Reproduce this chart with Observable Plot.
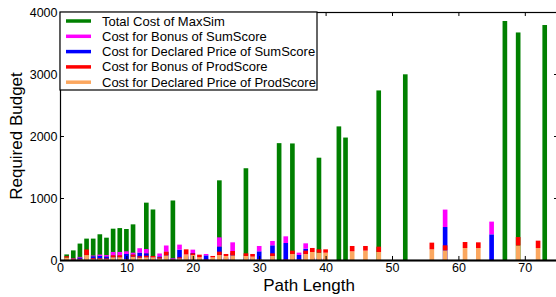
<!DOCTYPE html>
<html><head><meta charset="utf-8">
<script src="https://cdn.jsdelivr.net/npm/d3@7"></script>
<script src="https://cdn.jsdelivr.net/npm/@observablehq/plot@0.6"></script>
<style>body{margin:0;background:#fff;overflow:hidden} svg{display:block}</style>
</head><body><div id="chart"></div>
<script>
// ---- data ----
const maxSimX    = [1,2,3,4,5,6,7,8,9,10,11,13,14,17,24,28,33,35,39,42,43,48,52,67,69,73];
const maxSimCost = [90,155,265,345,345,415,360,505,515,500,575,925,815,960,1285,1480,1885,1880,1650,2155,1975,2735,2995,3855,3670,3790];

const stackX       = [1,2,3,4,5,6,7,8,9,10,11,12,13,14,15,16,17,18,19,20,21,22,23,24,25,26,28,29,30,32,34,35,36,37,38,39,40,44,46,48,56,58,61,63,65,69,72];
const sumDeclared  = [10,15,38,30,60,65,55,70,70,97,86,120,107,40,60,134,20,167,60,113,20,75,10,215,30,120,40,30,140,237,274,30,81,183,30,20,20,0,0,0,0,532,0,0,414,0,0];
const sumBonus     = [10,10,12,20,12,22,25,60,60,43,32,70,70,20,45,100,10,81,30,54,10,22,5,150,15,165,20,15,86,70,108,10,38,86,10,10,10,0,0,0,0,281,0,0,205,0,0];
const prodDeclared = [40,10,10,80,15,20,15,45,45,10,54,40,45,45,25,75,10,27,92,81,43,5,43,81,65,75,65,54,10,65,5,97,5,97,129,118,118,140,151,129,172,156,193,193,0,235,193];
const prodBonus    = [20,10,10,90,15,10,10,30,30,5,32,20,25,20,20,59,5,16,80,27,43,5,22,54,32,70,43,43,5,43,5,54,5,54,65,54,54,86,75,86,108,81,97,92,0,135,119];

const xTicks = [0,10,20,30,40,50,60,70];
const yTicks = [0,1000,2000,3000,4000];

const seriesLabels = ["Total Cost of MaxSim","Cost for Bonus of SumScore","Cost for Declared Price of SumScore","Cost for Bonus of ProdScore","Cost for Declared Price of ProdScore"];
const seriesColors = ["#008000","#ff00ff","#0000ff","#ff0000","#fba75f"];
const [GREEN, MAGENTA, BLUE, RED, ORANGE] = seriesColors;

// ---- build tables ----
const maxRows = maxSimX.map((x,i)=>({x, v: maxSimCost[i]}));
const stackRows = stackX.map((x,i)=>({x, sd: sumDeclared[i], sb: sumBonus[i], pd: prodDeclared[i], pb: prodBonus[i]}));
const hw = 0.35;
const x1 = d=>d.x-hw, x2 = d=>d.x+hw;
const tickLenY = 65, tickLenX = 0.6;

const chart = Plot.plot({
  width: 556, height: 297,
  marginLeft: 60, marginRight: -2, marginTop: 12, marginBottom: 37,
  style: {fontFamily: "'Liberation Sans', Arial, sans-serif", fontSize: "12.5px", color: "#000", background: "#fff"},
  x: {type: "linear", domain: [0, 75], axis: null},
  y: {type: "linear", domain: [0, 4000], axis: null},
  marks: [
    Plot.rect(maxRows, {x1, x2, y1: 0, y2: "v", fill: GREEN}),
    Plot.rect(stackRows, {x1, x2, y1: 0, y2: "sd", fill: BLUE}),
    Plot.rect(stackRows, {x1, x2, y1: "sd", y2: d=>d.sd+d.sb, fill: MAGENTA}),
    Plot.rect(stackRows, {x1, x2, y1: 0, y2: "pd", fill: ORANGE}),
    Plot.rect(stackRows, {x1, x2, y1: "pd", y2: d=>d.pd+d.pb, fill: RED}),
    Plot.frame({stroke: "#000", strokeWidth: 1.2}),
    Plot.ruleY([0], {stroke: "#000", strokeWidth: 2}),
    Plot.ruleX(xTicks, {x: d=>d, y1: 0, y2: tickLenY, stroke: "#000"}),
    Plot.ruleX(xTicks, {x: d=>d, y1: 4000-tickLenY, y2: 4000, stroke: "#000"}),
    Plot.ruleY(yTicks, {y: d=>d, x1: 0, x2: tickLenX, stroke: "#000"}),
    Plot.ruleY(yTicks, {y: d=>d, x1: 75-tickLenX, x2: 75, stroke: "#000"}),
    Plot.axisX({ticks: xTicks, tickSize: 0, tickPadding: 3, tickFormat: d=>String(d), label: null, fontSize: 12.5}),
    Plot.axisY({ticks: yTicks, tickSize: 0, tickPadding: 3, tickFormat: d=>String(d), label: null, fontSize: 12.5})
  ]
});
document.getElementById("chart").appendChild(chart);

// ---- axis titles & legend ----
const svg = d3.select(chart);
svg.append("text").attr("x", 309).attr("y", 291).attr("text-anchor","middle")
  .attr("font-size", 17).attr("fill","#000").text("Path Length");
svg.append("text").attr("transform","translate(16,136) rotate(-90)").attr("text-anchor","middle")
  .attr("dy","0.35em").attr("font-size", 17).attr("fill","#000").text("Required Budget");

const lg = svg.append("g");
lg.append("rect").attr("x",60).attr("y",12).attr("width",257).attr("height",78)
  .attr("fill","#fff").attr("stroke","#000").attr("stroke-width",1.2);
seriesLabels.forEach((lab,i)=>{
  const y = 21 + i*15.3;
  lg.append("line").attr("x1",66).attr("x2",91).attr("y1",y).attr("y2",y)
    .attr("stroke",seriesColors[i]).attr("stroke-width",3.5);
  lg.append("text").attr("x",102).attr("y",y).attr("dy","0.35em").attr("text-anchor","start")
    .attr("font-size",13).attr("fill","#000").text(lab);
});
</script>
</body></html>
